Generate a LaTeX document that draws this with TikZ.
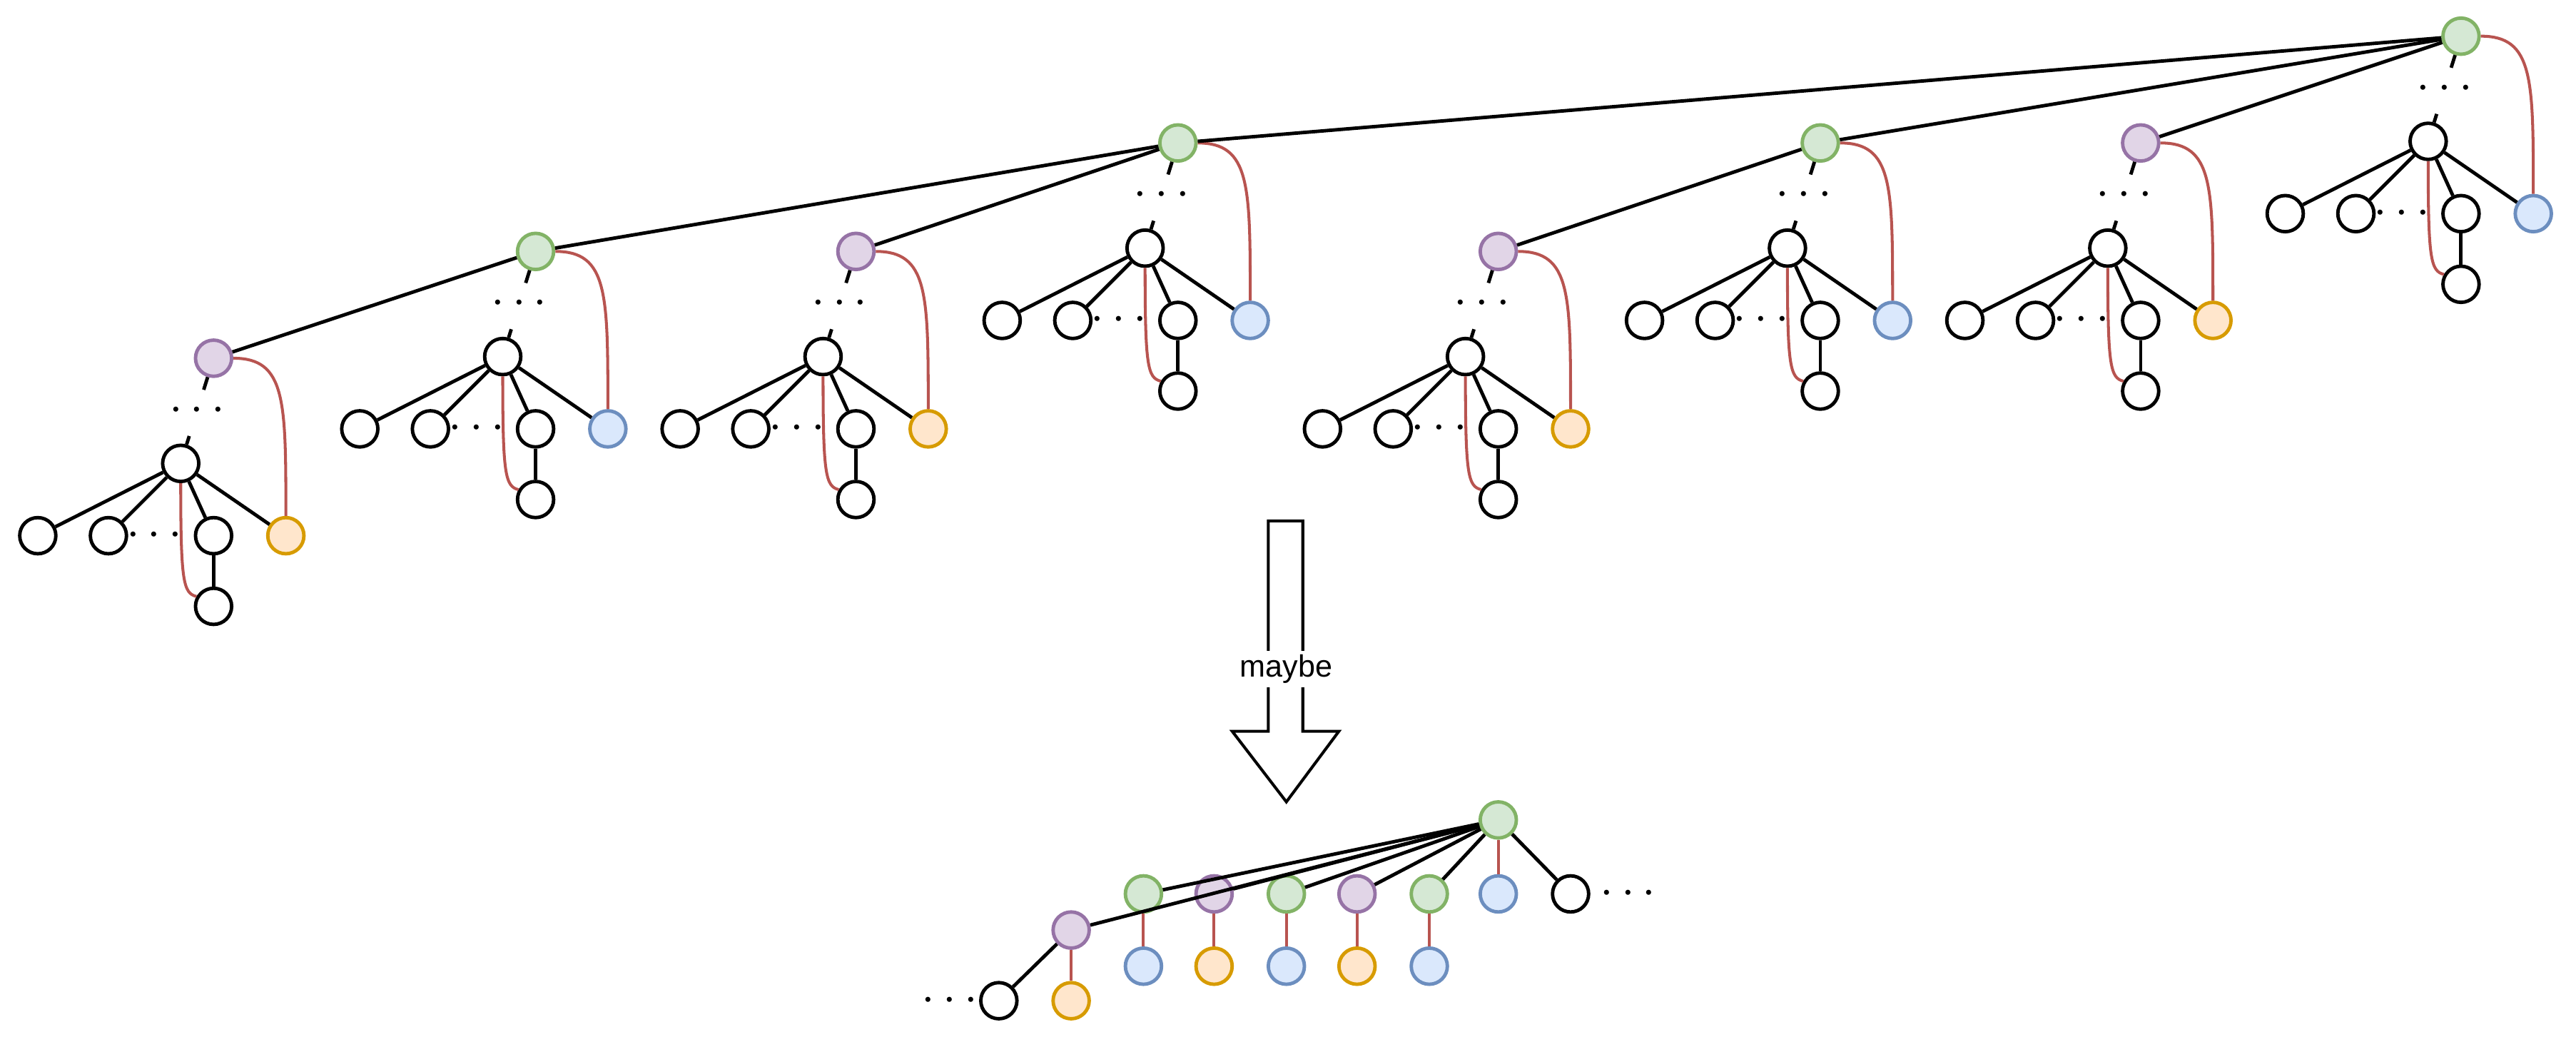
\documentclass[tikz,border=0pt]{standalone}
\usepackage{fontspec}
\setmainfont{Liberation Sans}
\usetikzlibrary{calc}
\definecolor{gfill}{HTML}{D5E8D4}\definecolor{gdraw}{HTML}{82B366}
\definecolor{pfill}{HTML}{E1D5E7}\definecolor{pdraw}{HTML}{9673A6}
\definecolor{bfill}{HTML}{DAE8FC}\definecolor{bdraw}{HTML}{6C8EBF}
\definecolor{ofill}{HTML}{FFE6CC}\definecolor{odraw}{HTML}{D79B00}
\definecolor{redl}{HTML}{B85450}
\tikzset{
  wnode/.style={draw=black,line width=1.8pt,shape=circle,fill=white,minimum size=0.66cm,inner sep=0pt},
  gnode/.style={wnode,draw=gdraw,fill=gfill},
  pnode/.style={wnode,draw=pdraw,fill=pfill},
  bnode/.style={wnode,draw=bdraw,fill=bfill},
  onode/.style={wnode,draw=odraw,fill=ofill},
  dnode/.style={inner sep=0pt,font=\fontsize{26}{28}\selectfont},
  edge/.style={line width=1.8pt,color=black},
  redge/.style={line width=1.5pt,color=redl}
}
\begin{document}
\begin{tikzpicture}[x=0.03cm,y=-0.03cm]
	\useasboundingbox (0,0) rectangle (1568,634);
	
	% Subtrees
	\foreach \i/\x/\y/\tc/\lc in {1/130/218/pnode/onode, 2/326/153/gnode/bnode, 3/521/153/pnode/onode, 4/717/87/gnode/bnode, 5/912/153/pnode/onode, 6/1108/87/gnode/bnode, 7/1303/87/pnode/onode, 8/1498/22/gnode/bnode} {
	\node[\tc] (t\i) at (\x,\y) {};
	\node[wnode] (m\i) at (\x-20,\y+64) {};
	\node[dnode] (u\i) at ($(t\i)!0.5!(m\i)+(0,0)$) {$\cdots$};
	\node[wnode] (a\i) at (\x-107,\y+108) {};
	\node[wnode] (b\i) at (\x-64,\y+108) {};
	\node[dnode] (v\i) at (\x-36,\y+108) {$\cdots$};
	\node[wnode] (c\i) at (\x,\y+108) {};
	\node[\lc] (d\i) at (\x+44,\y+108) {};
	\node[wnode] (e\i) at (\x,\y+151) {};
	\draw[edge] (t\i) -- ($(t\i)!0.3!(m\i)$);
	\draw[edge] ($(t\i)!0.74!(m\i)$) -- (m\i);
	\draw[edge] (m\i) -- (a\i);
	\draw[edge] (m\i) -- (b\i);
	\draw[edge] (m\i) -- (c\i);
	\draw[edge] (m\i) -- (d\i);
	\draw[edge] (c\i) -- (e\i);
	\draw[redge] (m\i.south) .. controls +(0,60) and +(-8,-2) .. (e\i.150);
	\draw[redge] (t\i.east) .. controls +(32,0) and +(0,-70) .. (d\i.north);
	}
	\draw[edge] (t2) -- (t1);
	\draw[edge] (t4) -- (t2);
	\draw[edge] (t4) -- (t3);
	\draw[edge] (t8) -- (t4);
	\draw[edge] (t8) -- (t6);
	\draw[edge] (t8) -- (t7);
	\draw[edge] (t6) -- (t5);
	
	% Arrow
	\draw[line width=1.5pt] (772,317) -- (793,317) -- (793,445) -- (815,445) -- (783,488) -- (750,445) -- (772,445) -- cycle;
	\node[fill=white,inner sep=2pt,font=\fontsize{16}{18}\selectfont] (maybe) at (783,407) {maybe};
	
	% Flattened tree
	\node[gnode] (r0) at (912,499) {};
	\node[gnode] (q1) at (696,544) {};
	\node[pnode] (q2) at (739,544) {};
	\node[gnode] (q3) at (783,544) {};
	\node[pnode] (q4) at (826,544) {};
	\node[gnode] (q5) at (870,544) {};
	\node[bnode] (q6) at (912,544) {};
	\node[wnode] (q7) at (956,544) {};
	\node[dnode] (qd) at (991,544) {$\cdots$};
	\node[bnode] (p1) at (696,588) {};
	\node[onode] (p2) at (739,588) {};
	\node[bnode] (p3) at (783,588) {};
	\node[onode] (p4) at (826,588) {};
	\node[bnode] (p5) at (870,588) {};
	\node[pnode] (q0) at (652,566) {};
	\node[onode] (p0) at (652,609) {};
	\node[wnode] (w0) at (608,609) {};
	\node[dnode] (wd) at (578,609) {$\cdots$};
	\foreach \j in {0,1,2,3,4,5,7} {
	\draw[edge] (r0) -- (q\j);
	}
	\draw[redge] (r0) -- (q6);
	\foreach \j in {0,1,2,3,4,5} {
	\draw[redge] (q\j) -- (p\j);
	}
	\draw[edge] (q0) -- (w0);
	
\end{tikzpicture}
\end{document}
